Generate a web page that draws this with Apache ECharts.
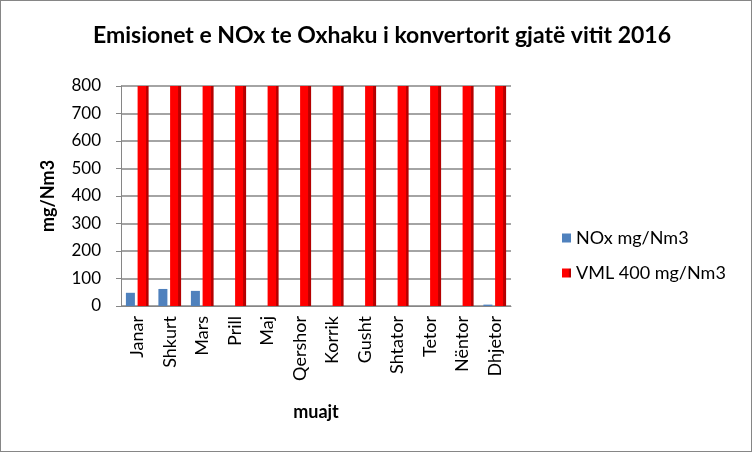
<!DOCTYPE html>
<html><head><meta charset="utf-8">
<script src="https://cdn.jsdelivr.net/npm/echarts@6/dist/echarts.min.js"></script>
<style>html,body{margin:0;padding:0;background:#fff}#c{width:752px;height:452px;box-sizing:border-box;border:1px solid #868686}</style>
</head><body><div id="c"></div>
<script>
const categories = ["Janar","Shkurt","Mars","Prill","Maj","Qershor","Korrik","Gusht","Shtator","Tetor","Nëntor","Dhjetor"];
const noxValues = [48,62,55,0,0,0,0,0,0,0,0,5];
const vmlValues = [800,800,800,800,800,800,800,800,800,800,800,800];
const seriesNames = ["NOx mg/Nm3","VML 400 mg/Nm3"];
const FONT = "Lato, 'Open Sans', sans-serif";
const chart = echarts.init(document.getElementById('c'));
chart.setOption({
  animation:false,
  title:{text:"Emisionet e NOx te Oxhaku i konvertorit gjatë vitit 2016",left:376,top:18,textAlign:'center',
    textStyle:{fontFamily:FONT,fontSize:23,fontWeight:'bold',color:'#000'}},
  legend:{orient:'vertical',left:556,top:223,itemGap:17,itemWidth:9,itemHeight:9,icon:'rect',
    textStyle:{fontFamily:FONT,fontSize:18,color:'#000'},data:seriesNames},
  grid:{left:120,right:240,top:85,bottom:145},
  xAxis:{type:'category',data:categories,
    axisLine:{lineStyle:{color:'#868686'}},axisTick:{show:false},
    axisLabel:{rotate:90,fontFamily:FONT,fontSize:18,color:'#000',margin:10},
    name:'muajt',nameLocation:'middle',nameGap:97,
    nameTextStyle:{fontFamily:FONT,fontSize:18,fontWeight:'bold',color:'#000'}},
  yAxis:{type:'value',min:0,max:800,interval:100,
    axisLine:{show:true,lineStyle:{color:'#868686'}},axisTick:{show:true,length:5,lineStyle:{color:'#868686'}},
    splitLine:{lineStyle:{color:'#868686',width:1.5}},
    axisLabel:{fontFamily:FONT,fontSize:17,color:'#000',margin:20},
    name:'mg/Nm3',nameLocation:'middle',nameGap:64,
    nameTextStyle:{fontFamily:FONT,fontSize:18,fontWeight:'bold',color:'#000'}},
  series:[
    {name:seriesNames[0],type:'bar',data:noxValues,barWidth:9,barGap:'30%',
      itemStyle:{color:'#4F81BD',borderWidth:0}},
    {name:seriesNames[1],type:'bar',data:vmlValues,barWidth:11,
      itemStyle:{color:new echarts.graphic.LinearGradient(0,0,1,0,[
        {offset:0,color:'#FF0000'},{offset:0.72,color:'#FF0000'},{offset:0.73,color:'#C00000'},{offset:1,color:'#B00000'}]),borderWidth:0}}
  ]
});
</script></body></html>
